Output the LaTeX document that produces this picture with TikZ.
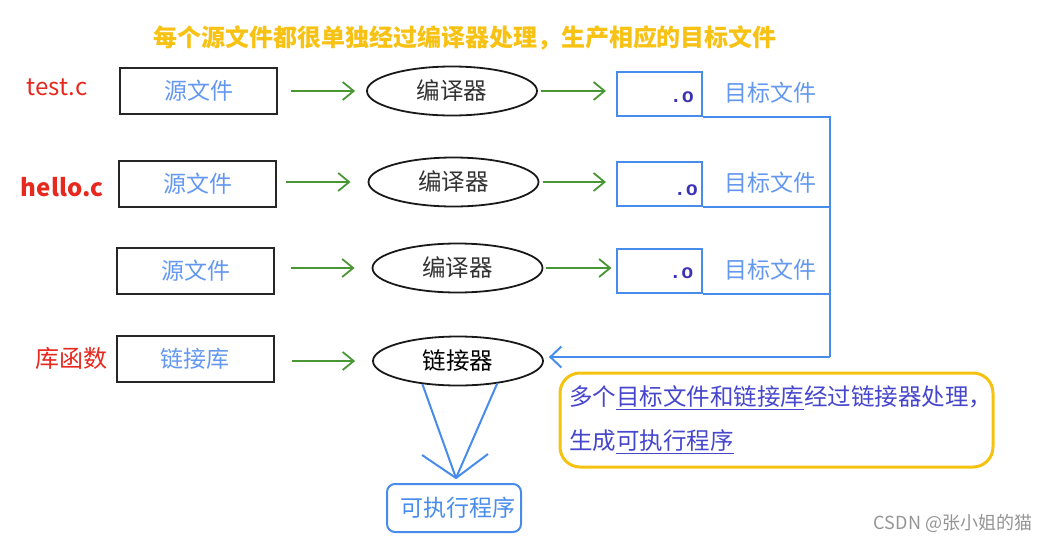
\documentclass[tikz,border=0pt]{standalone}
\usepackage{fontspec}
\setmainfont{Noto Sans CJK SC}
\setmonofont{Liberation Mono}
\usetikzlibrary{shapes.geometric, arrows.meta, positioning}

\definecolor{titleyel}{RGB}{248,194,20}
\definecolor{labred}{RGB}{230,40,30}
\definecolor{srcblue}{RGB}{100,152,240}
\definecolor{arrgreen}{RGB}{72,150,52}
\definecolor{lineblue}{RGB}{72,140,235}
\definecolor{objtxt}{RGB}{60,50,180}
\definecolor{notetxt}{RGB}{70,70,205}
\definecolor{noteyel}{RGB}{245,195,15}

\begin{document}
\begin{tikzpicture}[x=1pt, y=-1pt,
    srcbox/.style={draw=black!85, line width=2pt, minimum width=157pt, minimum height=46pt,
      inner sep=0pt, text=srcblue, font=\fontsize{23}{27}\selectfont},
    procell/.style={ellipse, draw=black!90, line width=1.8pt, minimum width=170pt,
      minimum height=49pt, inner sep=0pt, text=black!80, font=\fontsize{23.5}{27}\selectfont},
    objbox/.style={draw=lineblue, line width=2pt, minimum width=85pt, minimum height=44pt, inner sep=0pt},
    otext/.style={text=objtxt, inner sep=0pt, font=\ttfamily\bfseries\fontsize{20}{22}\selectfont},
    objlabel/.style={text=srcblue, font=\fontsize{23}{27}\selectfont},
    sidelabel/.style={text=labred, font=\fontsize{24}{28}\selectfont},
    garrow/.style={draw=arrgreen, line width=1.8pt, -{Straight Barb[length=11pt, width=18pt]}},
    bline/.style={draw=lineblue, line width=2pt}]

  \useasboundingbox (0,0) rectangle (1055,544);

  % 标题
  \node[text=titleyel, font=\fontsize{24}{30}\selectfont\bfseries] (title) at (465,38)
    {每个源文件都很单独经过编译器处理，生产相应的目标文件};

  % 左侧标注
  \node[sidelabel] (testc) at (57,87) {test.c};
  \node[sidelabel, font=\fontsize{24}{28}\selectfont\bfseries] (helloc) at (62,187) {hello.c};
  \node[sidelabel] (libfn) at (71,358) {库函数};

  % 源文件 / 链接库
  \node[srcbox] (src1) at (198.5,91) {源文件};
  \node[srcbox] (src2) at (197.5,184) {源文件};
  \node[srcbox] (src3) at (195.5,271) {源文件};
  \node[srcbox] (lib) at (195,359) {链接库};

  % 编译器 / 链接器
  \node[procell] (comp1) at (452,91) {编译器};
  \node[procell] (comp2) at (453.5,182) {编译器};
  \node[procell] (comp3) at (457.5,268) {编译器};
  \node[procell, text=black] (link) at (458,361) {链接器};

  % 目标文件
  \node[objbox] (obj1) at (659.5,93.5) {};
  \node[objbox] (obj2) at (659.5,184) {};
  \node[objbox] (obj3) at (659,271) {};
  \node[otext, left=9pt of obj1.east, yshift=-4pt] (o1) {.o};
  \node[otext, left=5pt of obj2.east, yshift=-6pt] (o2) {.o};
  \node[otext, left=9pt of obj3.east, yshift=-2pt] (o3) {.o};
  \node[objlabel] (lab1) at (770,93) {目标文件};
  \node[objlabel] (lab2) at (770,183) {目标文件};
  \node[objlabel] (lab3) at (770,270) {目标文件};

  % 绿色箭头
  \draw[garrow, shorten <=13pt, shorten >=11pt] (comp1.west -| src1.east) -- (comp1.west);
  \draw[garrow, shorten <=9pt, shorten >=17pt] (comp2.west -| src2.east) -- (comp2.west);
  \draw[garrow, shorten <=16pt, shorten >=17pt] (comp3.west -| src3.east) -- (comp3.west);
  \draw[garrow, shorten <=17pt, shorten >=17pt] (link.west -| lib.east) -- (link.west);
  \draw[garrow, shorten <=3pt, shorten >=10pt] (comp1.east) -- (comp1.east -| obj1.west);
  \draw[garrow, shorten <=4pt, shorten >=10pt] (comp2.east) -- (comp2.east -| obj2.west);
  \draw[garrow, shorten <=3pt, shorten >=4pt] (comp3.east) -- (comp3.east -| obj3.west);

  % 汇总到链接器
  \coordinate (bus) at (830,357);
  \draw[bline] (obj1.south east) -| (bus);
  \draw[bline] (obj2.south east) -- (obj2.south east -| bus);
  \draw[bline] (obj3.south east) -- (obj3.south east -| bus);
  \draw[bline, -{Straight Barb[length=11pt, width=21pt]}, shorten >=5pt] (bus) -- (bus -| link.east);

  % 可执行程序
  \node[draw=lineblue, line width=2pt, rounded corners=8pt, minimum width=134pt, minimum height=48pt,
    text=lineblue, font=\fontsize{23}{27}\selectfont] (exe) at (454,508) {\hspace{8pt}可执行程序};
  \coordinate (tip) at (456,478);
  \draw[bline] (link.-147) -- (tip);
  \draw[bline] (link.-30) -- (tip);
  \draw[bline] (422,455) -- (tip) -- (488,454);

  % 说明框
  \node[draw=noteyel, line width=3pt, rounded corners=20pt, minimum width=431pt, minimum height=94pt,
    inner xsep=9pt, text width=415pt, align=left, text=notetxt,
    font=\fontsize{23.5}{44}\selectfont] (note) at (776.5,420)
    {多个\underline{目标文件和链接库}经过链接器处理，\\生成\underline{可执行程序}};

  % 水印
  \node[text=black!42, font=\fontsize{18}{22}\selectfont] (mark) at (953,523) {CSDN @张小姐的猫};
\end{tikzpicture}
\end{document}
